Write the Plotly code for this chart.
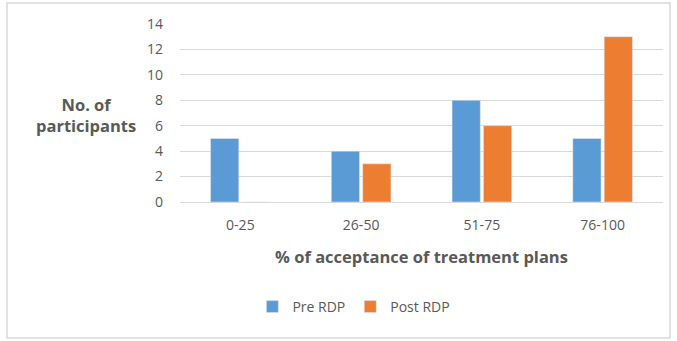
import plotly.graph_objects as go

categories = ["0-25", "26-50", "51-75", "76-100"]
pre_rdp = [5, 4, 8, 5]
post_rdp = [0, 3, 6, 13]
y_ticks = [0, 2, 4, 6, 8, 10, 12, 14]

TEXT = "#595959"
FONT = "Open Sans, Liberation Sans, sans-serif"

fig = go.Figure()
fig.add_trace(go.Bar(name="Pre RDP", x=categories, y=pre_rdp, marker_color="#5B9BD5"))
fig.add_trace(go.Bar(name="Post RDP", x=categories, y=post_rdp, marker_color="#ED7D31"))

fig.update_layout(
    width=677, height=341,
    margin=dict(l=180, r=14, t=24, b=139),
    paper_bgcolor="white", plot_bgcolor="white",
    barmode="group", bargap=0.48, bargroupgap=0.1,
    font=dict(family=FONT, color=TEXT, size=14),
    showlegend=True,
    legend=dict(orientation="h", x=0.36, xanchor="center", y=-0.59, yanchor="middle",
                font=dict(size=14, color=TEXT), itemwidth=30, traceorder="normal"),
    xaxis=dict(showgrid=False, showline=False, ticks="", ticklabelstandoff=13,
               tickfont=dict(size=14, color=TEXT),
               title=dict(text="<b>% of acceptance of treatment plans</b>",
                          font=dict(size=16.5, color=TEXT), standoff=18)),
    yaxis=dict(range=[0, 14], tickvals=y_ticks, showgrid=True, gridcolor="#D9D9D9", gridwidth=1.3,
               zeroline=True, zerolinecolor="#D9D9D9", zerolinewidth=1.3,
               showline=False, ticks="", ticklabelstandoff=16,
               tickfont=dict(size=14, color=TEXT)),
)

fig.add_annotation(text="<b>No. of<br>participants</b>", xref="paper", yref="paper",
                   x=(86 - 180) / 483, y=(202 - 115) / 178, showarrow=False,
                   xanchor="center", yanchor="middle",
                   font=dict(size=16.5, color=TEXT), align="center")

fig.add_shape(type="rect", xref="paper", yref="paper",
              x0=(7 - 180) / 483, x1=(670 - 180) / 483,
              y0=(202 - 338) / 178, y1=(202 - 3) / 178,
              line=dict(color="#D9D9D9", width=1.5), layer="below")

fig.write_html("out.html")
